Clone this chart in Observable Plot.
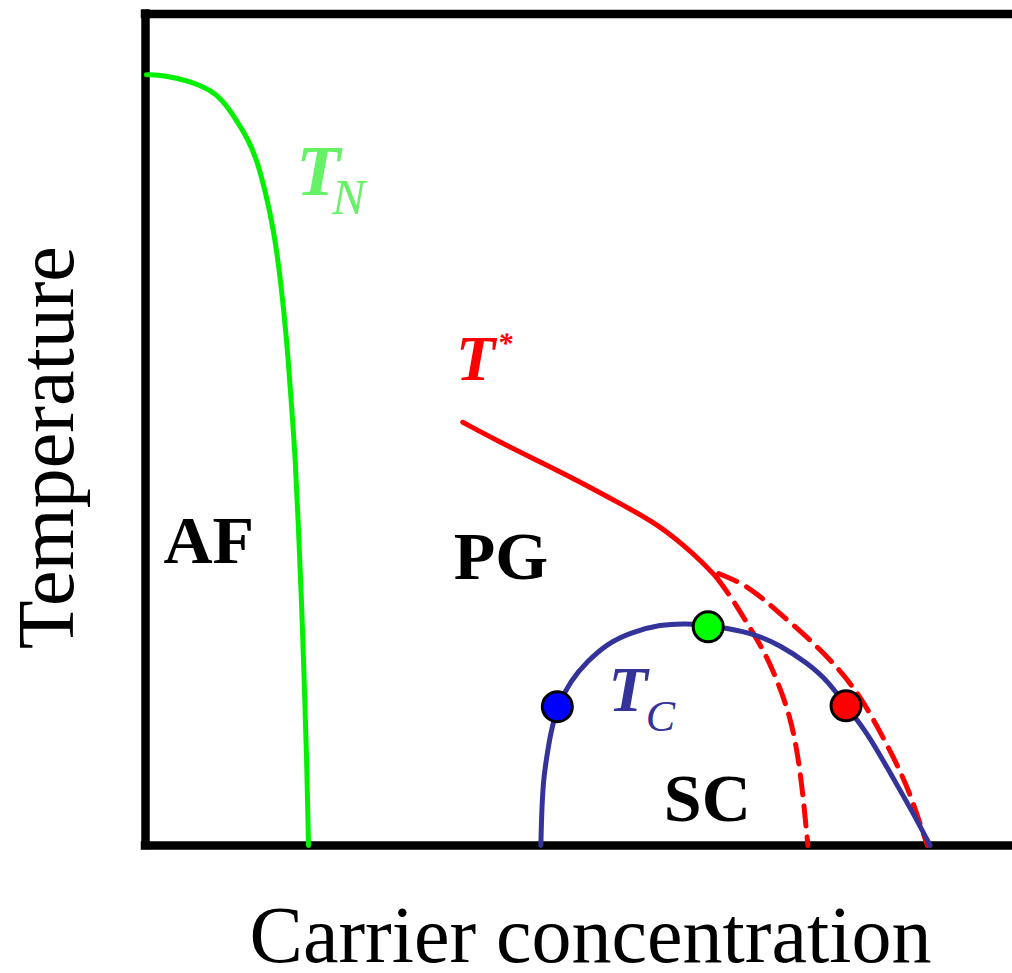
<!DOCTYPE html>
<html>
<head>
<meta charset="utf-8">
<script src="https://cdn.jsdelivr.net/npm/d3@7"></script>
<script src="https://cdn.jsdelivr.net/npm/@observablehq/plot@0.6"></script>
<style>
  body { margin: 0; background: #fff; }
</style>
</head>
<body>
<div id="chart"></div>
<script>
// Schematic phase diagram of a doped antiferromagnet / superconductor.
// Both axes are in arbitrary units running from 0 to 1.

// Néel temperature T_N
const tnX = [0.001, 0.023, 0.048, 0.075, 0.089, 0.104, 0.118, 0.128, 0.138, 0.148, 0.156, 0.163, 0.168, 0.173, 0.176, 0.180, 0.183, 0.186, 0.188];
const tnT = [0.927, 0.926, 0.920, 0.909, 0.896, 0.874, 0.850, 0.826, 0.788, 0.740, 0.679, 0.607, 0.535, 0.463, 0.391, 0.295, 0.198, 0.102, 0.000];

// Pseudogap crossover T* (measured part)
const tStarX = [0.366, 0.409, 0.456, 0.502, 0.548, 0.588, 0.621, 0.644, 0.659];
const tStarT = [0.509, 0.485, 0.461, 0.437, 0.411, 0.388, 0.361, 0.339, 0.322];

// T* continued under the dome: two scenarios
const tStarInnerX = [0.659, 0.678, 0.694, 0.713, 0.729, 0.744, 0.753, 0.759, 0.764];
const tStarInnerT = [0.322, 0.295, 0.267, 0.235, 0.198, 0.154, 0.106, 0.054, 0.000];
const tStarOuterX = [0.661, 0.694, 0.724, 0.764, 0.794, 0.817, 0.836, 0.863, 0.882, 0.897, 0.902];
const tStarOuterT = [0.327, 0.313, 0.286, 0.250, 0.219, 0.190, 0.159, 0.106, 0.063, 0.014, 0.000];

// Superconducting dome T_C
const tcX = [0.456, 0.457, 0.459, 0.461, 0.467, 0.475, 0.490, 0.510, 0.533, 0.559, 0.594, 0.625, 0.649, 0.671, 0.701, 0.732, 0.764, 0.787, 0.808, 0.833, 0.859, 0.886, 0.905];
const tcT = [0.000, 0.042, 0.078, 0.094, 0.135, 0.167, 0.198, 0.222, 0.243, 0.256, 0.266, 0.267, 0.265, 0.261, 0.255, 0.241, 0.219, 0.198, 0.168, 0.135, 0.087, 0.038, 0.000];

// Marked dopings on the dome: underdoped, optimal, overdoped
const dotX = [0.475, 0.649, 0.808];
const dotT = [0.167, 0.263, 0.168];
const dotFill = ["#0000ff", "#00ff00", "#ff0000"];

// Phase region names
const regionNames = ["AF", "PG", "SC"];
const regionX = [0.073, 0.410, 0.648];
const regionT = [0.340, 0.321, 0.030];

// Curve symbols: T with index
const symbolX = [0.174, 0.358, 0.534];
const symbolT = [0.782, 0.560, 0.162];
const symbolSize = [72, 64, 64];
const symbolIndex = ["N", "*", "C"];
const indexX = [0.215, 0.406, 0.577];
const indexT = [0.760, 0.592, 0.138];
const indexSize = [50, 30, 44];
const symbolColor = ["#66f266", "#ff0000", "#333399"];

const pts = (xs, ts) => xs.map((x, i) => ({x, t: ts[i]}));
const serif = "'Liberation Serif', 'Times New Roman', serif";

const symbolMarks = symbolX.flatMap((x, i) => [
  Plot.text([{x, t: symbolT[i]}], {
    x: "x", y: "t", text: () => "T",
    fill: symbolColor[i], fontFamily: serif, fontSize: symbolSize[i],
    fontWeight: "bold", fontStyle: "italic",
    textAnchor: "start", lineAnchor: "bottom"
  }),
  Plot.text([{x: indexX[i], t: indexT[i]}], {
    x: "x", y: "t", text: () => symbolIndex[i],
    fill: symbolColor[i], fontFamily: serif, fontSize: indexSize[i],
    fontWeight: symbolIndex[i] === "*" ? "bold" : "normal",
    fontStyle: "italic",
    textAnchor: "start", lineAnchor: "bottom"
  })
]);

const chart = Plot.plot({
  width: 1012,
  height: 973,
  marginLeft: 145,
  marginRight: 0,
  marginTop: 13.5,
  marginBottom: 128,
  x: {domain: [0, 1], axis: null},
  y: {domain: [0, 1], axis: null},
  style: {background: "#fff", overflow: "visible"},
  marks: [
    // open box: top, bottom and left edges
    Plot.ruleY([0, 1], {stroke: "#000", strokeWidth: 8.5, strokeLinecap: "square"}),
    Plot.ruleX([0], {stroke: "#000", strokeWidth: 8.5, strokeLinecap: "square"}),

    Plot.line(pts(tnX, tnT), {x: "x", y: "t", stroke: "#00f000", strokeWidth: 5, curve: "basis"}),
    Plot.line(pts(tStarX, tStarT), {x: "x", y: "t", stroke: "#ff0000", strokeWidth: 5, curve: "basis"}),
    Plot.line(pts(tStarInnerX, tStarInnerT), {x: "x", y: "t", stroke: "#ff0000", strokeWidth: 5, strokeDasharray: "20,11", curve: "basis"}),
    Plot.line(pts(tStarOuterX, tStarOuterT), {x: "x", y: "t", stroke: "#ff0000", strokeWidth: 5, strokeDasharray: "20,11", curve: "basis"}),
    Plot.line(pts(tcX, tcT), {x: "x", y: "t", stroke: "#333399", strokeWidth: 5, curve: "basis"}),

    Plot.dot(pts(dotX, dotT), {x: "x", y: "t", r: 15, fill: (d, i) => dotFill[i], stroke: "#000", strokeWidth: 3}),

    Plot.text(pts(regionX, regionT), {
      x: "x", y: "t", text: (d, i) => regionNames[i],
      fill: "#000", fontFamily: serif, fontSize: 68, fontWeight: "bold",
      textAnchor: "middle", lineAnchor: "bottom"
    }),
    ...symbolMarks,

    // axis titles
    Plot.text(["Carrier concentration"], {
      frameAnchor: "bottom", dx: 11.5, dy: 116,
      fill: "#000", fontFamily: serif, fontSize: 80,
      textAnchor: "middle", lineAnchor: "bottom"
    }),
    Plot.text(["Temperature"], {
      frameAnchor: "left", rotate: -90, dx: -73, dy: 18,
      fill: "#000", fontFamily: serif, fontSize: 80,
      textAnchor: "middle", lineAnchor: "bottom"
    })
  ]
});

document.getElementById("chart").append(chart);
</script>
</body>
</html>
